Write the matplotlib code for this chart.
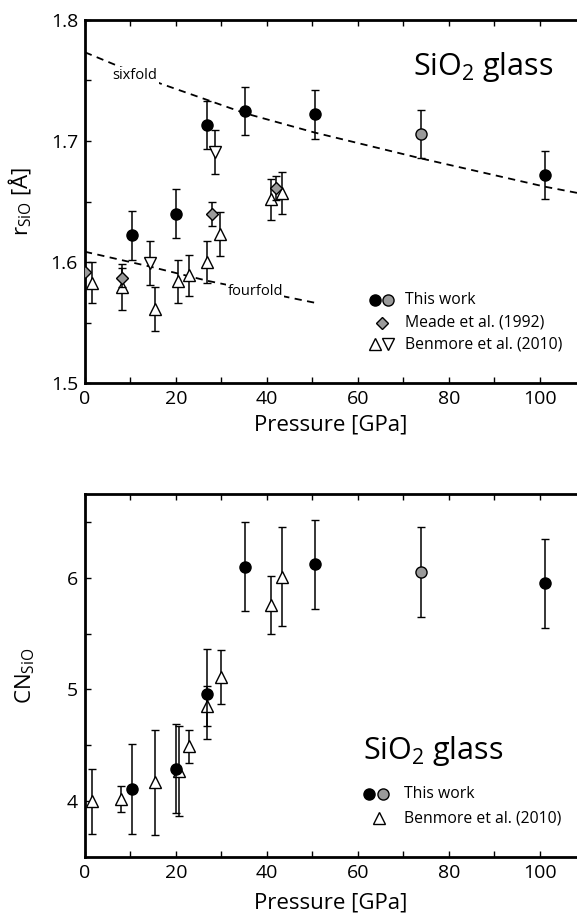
import matplotlib
matplotlib.use('Agg')
import matplotlib.pyplot as plt

plt.rcParams['font.family'] = ['Open Sans', 'DejaVu Sans']
plt.rcParams['mathtext.fontset'] = 'custom'
plt.rcParams['mathtext.rm'] = 'Open Sans'
plt.rcParams['mathtext.it'] = 'Open Sans:italic'

# --- r_SiO (top panel) ---
# this work, black
p_work_r = [10.4, 20.0, 26.9, 35.2, 50.5, 101.2]
r_work = [1.622, 1.640, 1.713, 1.725, 1.722, 1.672]
r_work_err = [0.020, 0.020, 0.020, 0.020, 0.020, 0.020]
# this work, grey
p_work_r_grey = [73.8]
r_work_grey = [1.706]
r_work_grey_err = [0.020]
# Meade et al. (1992)
p_meade = [0.0, 8.1, 28.0, 42.0]
r_meade = [1.592, 1.587, 1.640, 1.661]
r_meade_err = [0.0, 0.008, 0.010, 0.010]
# Benmore et al. (2010), up triangles
p_ben_up = [1.6, 8.1, 15.4, 20.5, 22.9, 26.9, 29.8, 40.8, 43.4]
r_ben_up = [1.583, 1.579, 1.561, 1.584, 1.589, 1.600, 1.623, 1.652, 1.657]
r_ben_up_err = [0.017, 0.019, 0.018, 0.018, 0.017, 0.017, 0.018, 0.017, 0.017]
# Benmore et al. (2010), down triangles
p_ben_dn = [14.4, 28.6]
r_ben_dn = [1.599, 1.691]
r_ben_dn_err = [0.018, 0.018]

# guide lines
p_six = [0.0, 16.5, 26.9, 35.2, 50.5, 73.8, 101.2, 108.4]
r_six = [1.7733, 1.7476, 1.7339, 1.7229, 1.7070, 1.6857, 1.6622, 1.6570]
p_four = [0.0, 14.0, 26.9, 51.0]
r_four = [1.6085, 1.5965, 1.5845, 1.5660]

# --- CN_SiO (bottom panel) ---
p_work_cn = [10.3, 20.0, 26.9, 35.2, 50.5, 101.2]
cn_work = [4.11, 4.29, 4.96, 6.10, 6.12, 5.95]
cn_work_err = [0.40, 0.40, 0.40, 0.40, 0.40, 0.40]
p_work_cn_grey = [73.8]
cn_work_grey = [6.05]
cn_work_grey_err = [0.40]
p_ben_cn = [1.5, 7.9, 15.5, 20.7, 22.9, 26.9, 29.9, 41.0, 43.4]
cn_ben = [4.00, 4.02, 4.17, 4.27, 4.49, 4.85, 5.11, 5.76, 6.01]
cn_ben_err = [0.29, 0.12, 0.47, 0.40, 0.15, 0.18, 0.24, 0.26, 0.44]

grey = '#9a9a9a'
eb = dict(ecolor='black', elinewidth=1.1, capsize=3, capthick=1.1, linestyle='none',
          markeredgecolor='black', markeredgewidth=1.0)

fig = plt.figure(figsize=(5.77, 9.17), dpi=100)
ax1 = fig.add_axes([0.1473, 0.5823, 0.8527, 0.3959])
ax2 = fig.add_axes([0.1473, 0.0654, 0.8527, 0.3959])

# top panel
ax1.plot(p_six, r_six, color='black', lw=1.3, ls=(0, (4, 3)), zorder=1)
ax1.plot(p_four, r_four, color='black', lw=1.3, ls=(0, (4, 3)), zorder=1)
ax1.text(11.0, 1.754, 'sixfold', fontsize=10.5, ha='center', va='center',
         bbox=dict(facecolor='white', edgecolor='none', pad=1), zorder=2)
ax1.text(37.4, 1.5755, 'fourfold', fontsize=10.5, ha='center', va='center',
         bbox=dict(facecolor='white', edgecolor='none', pad=1), zorder=2)

ax1.errorbar(p_ben_up, r_ben_up, yerr=r_ben_up_err, fmt='^', ms=9, markerfacecolor='white', zorder=3, **eb)
ax1.errorbar(p_ben_dn, r_ben_dn, yerr=r_ben_dn_err, fmt='v', ms=9, markerfacecolor='white', zorder=3, **eb)
ax1.errorbar(p_meade, r_meade, yerr=r_meade_err, fmt='D', ms=6.5, markerfacecolor=grey, zorder=4, **eb)
ax1.errorbar(p_work_r, r_work, yerr=r_work_err, fmt='o', ms=8, markerfacecolor='black', zorder=5, **eb)
ax1.errorbar(p_work_r_grey, r_work_grey, yerr=r_work_grey_err, fmt='o', ms=8, markerfacecolor=grey, zorder=5, **eb)

ax1.set_xlim(0, 108.2)
ax1.set_ylim(1.5, 1.8)
ax1.set_yticks([1.5, 1.6, 1.7, 1.8])
ax1.set_yticks([1.55, 1.65, 1.75], minor=True)
ax1.set_ylabel('r$_{\\mathrm{SiO}}$ [Å]', fontsize=16)

ax1.text(0.667, 0.848, 'SiO$_2$ glass', transform=ax1.transAxes, fontsize=22, va='baseline')
# legend, drawn by hand
ax1.plot([0.589], [0.229], 'o', ms=8, mfc='black', mec='black', transform=ax1.transAxes)
ax1.plot([0.6165], [0.229], 'o', ms=8, mfc=grey, mec='black', transform=ax1.transAxes)
ax1.plot([0.603], [0.166], 'D', ms=6.5, mfc=grey, mec='black', transform=ax1.transAxes)
ax1.plot([0.589], [0.107], '^', ms=8, mfc='white', mec='black', transform=ax1.transAxes)
ax1.plot([0.6165], [0.107], 'v', ms=8, mfc='white', mec='black', transform=ax1.transAxes)
ax1.text(0.650, 0.229, 'This work', transform=ax1.transAxes, fontsize=11.3, va='center')
ax1.text(0.650, 0.166, 'Meade et al. (1992)', transform=ax1.transAxes, fontsize=11.3, va='center')
ax1.text(0.650, 0.107, 'Benmore et al. (2010)', transform=ax1.transAxes, fontsize=11.3, va='center')

# bottom panel
ax2.errorbar(p_ben_cn, cn_ben, yerr=cn_ben_err, fmt='^', ms=9, markerfacecolor='white', zorder=3, **eb)
ax2.errorbar(p_work_cn, cn_work, yerr=cn_work_err, fmt='o', ms=8, markerfacecolor='black', zorder=5, **eb)
ax2.errorbar(p_work_cn_grey, cn_work_grey, yerr=cn_work_grey_err, fmt='o', ms=8, markerfacecolor=grey, zorder=5, **eb)

ax2.set_xlim(0, 108.2)
ax2.set_ylim(3.5, 6.75)
ax2.set_yticks([4, 5, 6])
ax2.set_yticks([4.5, 5.5, 6.5], minor=True)
ax2.set_ylabel('CN$_{\\mathrm{SiO}}$', fontsize=16)

ax2.text(0.566, 0.269, 'SiO$_2$ glass', transform=ax2.transAxes, fontsize=22, va='baseline')
ax2.plot([0.5774], [0.1736], 'o', ms=8, mfc='black', mec='black', transform=ax2.transAxes)
ax2.plot([0.6067], [0.1736], 'o', ms=8, mfc=grey, mec='black', transform=ax2.transAxes)
ax2.plot([0.598], [0.1066], '^', ms=8, mfc='white', mec='black', transform=ax2.transAxes)
ax2.text(0.649, 0.1736, 'This work', transform=ax2.transAxes, fontsize=11.3, va='center')
ax2.text(0.649, 0.1066, 'Benmore et al. (2010)', transform=ax2.transAxes, fontsize=11.3, va='center')

for ax in (ax1, ax2):
    ax.set_xticks([0, 20, 40, 60, 80, 100])
    ax.set_xticks([10, 30, 50, 70, 90], minor=True)
    ax.set_xlabel('Pressure [GPa]', fontsize=16)
    ax.spines['right'].set_visible(False)
    for s in ('left', 'top', 'bottom'):
        ax.spines[s].set_linewidth(2.0)
    ax.tick_params(which='both', direction='in', length=4.5, width=1.0,
                   top=True, right=False, labelsize=14, pad=5)
ax1.yaxis.set_label_coords(-0.103, 0.5)
ax2.yaxis.set_label_coords(-0.097, 0.5)
ax1.xaxis.set_label_coords(0.5, -0.088)
ax2.xaxis.set_label_coords(0.5, -0.099)

fig.savefig('out.png', dpi=100)
